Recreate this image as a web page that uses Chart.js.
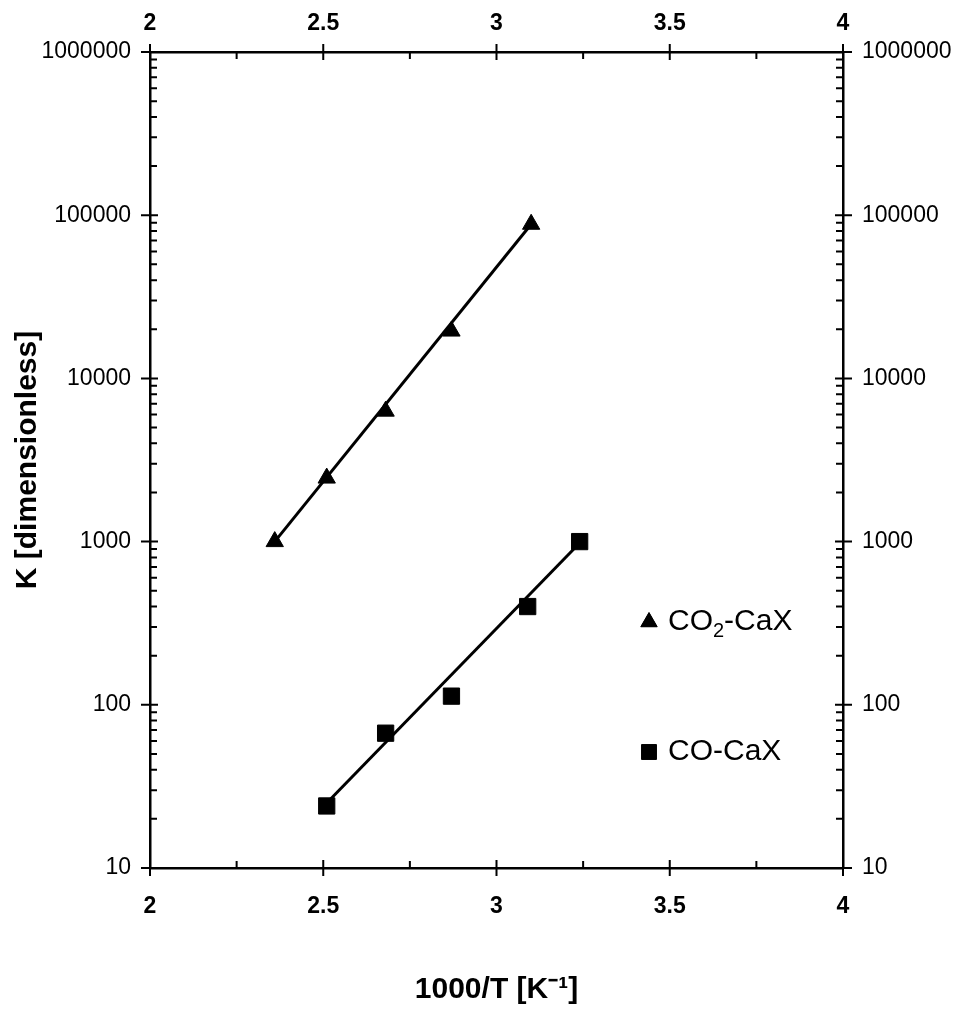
<!DOCTYPE html>
<html>
<head>
<meta charset="utf-8">
<script src="https://cdn.jsdelivr.net/npm/chart.js@4/dist/chart.umd.min.js"></script>
<style>
  html, body { margin: 0; padding: 0; background: #fff; }
  canvas { display: block; }
</style>
</head>
<body>
<canvas id="chart" width="959" height="1009"></canvas>
<script>
// data
const co2X = [2.36, 2.51, 2.68, 2.87, 3.10];
const co2K = [1000, 2450, 6300, 19500, 88000];
const coX = [2.51, 2.68, 2.87, 3.09, 3.24];
const coK = [24, 67, 113, 400, 1000];

// fitted lines (end points)
const co2FitX = [2.36, 3.10];
const co2FitK = [1000, 88000];
const coFitX = [2.51, 3.24];
const coFitK = [25, 980];

const xTicks = [2, 2.5, 3, 3.5, 4];
const xMinor = [2.25, 2.75, 3.25, 3.75];
const yTicks = [10, 100, 1000, 10000, 100000, 1000000];

const family = "'Liberation Sans', Arial, sans-serif";
const xLabelFont = { family: family, size: 23, weight: 'bold' };
const yLabelFont = { family: family, size: 23 };
const titleFont = { family: family, size: 30, weight: 'bold' };

const toPoints = (xs, ys) => xs.map((x, i) => ({ x: x, y: ys[i] }));

// tick marks that cross the frame, minor ticks pointing inside
const frameTicks = {
  id: 'frameTicks',
  afterDraw(chart) {
    const { ctx, chartArea: a, scales } = chart;
    ctx.save();
    ctx.strokeStyle = '#000';
    ctx.lineWidth = 2;
    ctx.beginPath();
    xTicks.forEach(v => {
      const px = scales.x.getPixelForValue(v);
      ctx.moveTo(px, a.bottom + 8); ctx.lineTo(px, a.bottom - 8);
      ctx.moveTo(px, a.top - 8); ctx.lineTo(px, a.top + 8);
    });
    xMinor.forEach(v => {
      const px = scales.x.getPixelForValue(v);
      ctx.moveTo(px, a.bottom); ctx.lineTo(px, a.bottom - 7);
      ctx.moveTo(px, a.top); ctx.lineTo(px, a.top + 7);
    });
    yTicks.forEach(v => {
      const py = scales.y.getPixelForValue(v);
      ctx.moveTo(a.left - 9, py); ctx.lineTo(a.left + 8, py);
      ctx.moveTo(a.right + 9, py); ctx.lineTo(a.right - 8, py);
      if (v < 1000000) {
        for (let m = 2; m < 10; m++) {
          const pm = scales.y.getPixelForValue(v * m);
          ctx.moveTo(a.left, pm); ctx.lineTo(a.left + 7, pm);
          ctx.moveTo(a.right, pm); ctx.lineTo(a.right - 7, pm);
        }
      }
    });
    ctx.stroke();
    ctx.restore();
  }
};

// legend inside the plot
const innerLegend = {
  id: 'innerLegend',
  afterDraw(chart) {
    const { ctx } = chart;
    const x0 = 649, tx = 668;
    const rows = [
      { y: 622, style: 'triangle', r: 9.5, parts: [['CO', 0], ['2', 1], ['-CaX', 0]] },
      { y: 752, style: 'rect', r: 10.5, parts: [['CO-CaX', 0]] }
    ];
    ctx.save();
    ctx.fillStyle = '#000';
    ctx.strokeStyle = '#000';
    ctx.lineWidth = 1;
    ctx.textBaseline = 'middle';
    rows.forEach(row => {
      Chart.helpers.drawPoint(ctx, { pointStyle: row.style, radius: row.r, borderWidth: 1 }, x0, row.y);
      ctx.fill();
      let x = tx;
      row.parts.forEach(([t, sub]) => {
        ctx.font = (sub ? '20px ' : '30px ') + family;
        ctx.fillText(t, x, row.y + (sub ? 9 : 0));
        x += ctx.measureText(t).width;
      });
    });
    ctx.restore();
  }
};

const frameGrid = { display: true, drawOnChartArea: false, drawTicks: false };
const frameBorder = { display: true, color: '#000', width: 2.5 };

new Chart(document.getElementById('chart'), {
  type: 'scatter',
  data: {
    datasets: [
      {
        label: 'CO2-CaX fit',
        data: toPoints(co2FitX, co2FitK),
        showLine: true,
        borderColor: '#000',
        borderWidth: 3,
        pointRadius: 0
      },
      {
        label: 'CO-CaX fit',
        data: toPoints(coFitX, coFitK),
        showLine: true,
        borderColor: '#000',
        borderWidth: 3,
        pointRadius: 0
      },
      {
        label: 'CO2-CaX',
        data: toPoints(co2X, co2K),
        pointStyle: 'triangle',
        pointRadius: 10,
        backgroundColor: '#000',
        borderColor: '#000',
        borderWidth: 1
      },
      {
        label: 'CO-CaX',
        data: toPoints(coX, coK),
        pointStyle: 'rect',
        pointRadius: 11.5,
        backgroundColor: '#000',
        borderColor: '#000',
        borderWidth: 1
      }
    ]
  },
  options: {
    responsive: false,
    animation: false,
    layout: { padding: 0 },
    plugins: {
      legend: { display: false },
      tooltip: { enabled: false }
    },
    scales: {
      x: {
        type: 'linear',
        position: 'bottom',
        min: 2,
        max: 4,
        afterBuildTicks: s => { s.ticks = xTicks.map(v => ({ value: v })); },
        afterFit: s => { s.height = 141; },
        grid: frameGrid,
        border: frameBorder,
        ticks: { color: '#000', font: xLabelFont, padding: 25, maxRotation: 0, callback: v => String(v) },
        title: { display: true, text: '1000/T [K⁻¹]', color: '#000', font: titleFont, padding: { top: 0, bottom: 1 } }
      },
      x2: {
        type: 'linear',
        position: 'top',
        min: 2,
        max: 4,
        afterBuildTicks: s => { s.ticks = xTicks.map(v => ({ value: v })); },
        afterFit: s => { s.height = 52; },
        grid: frameGrid,
        border: frameBorder,
        ticks: { color: '#000', font: xLabelFont, padding: 15, maxRotation: 0, callback: v => String(v) }
      },
      y: {
        type: 'logarithmic',
        position: 'left',
        min: 10,
        max: 1000000,
        afterBuildTicks: s => { s.ticks = yTicks.map(v => ({ value: v })); },
        afterFit: s => { s.width = 150; },
        grid: frameGrid,
        border: frameBorder,
        ticks: { color: '#000', font: yLabelFont, padding: 19, callback: v => String(v) },
        title: { display: true, text: 'K [dimensionless]', color: '#000', font: titleFont, padding: { top: 10, bottom: 0 } }
      },
      y2: {
        type: 'logarithmic',
        position: 'right',
        min: 10,
        max: 1000000,
        afterBuildTicks: s => { s.ticks = yTicks.map(v => ({ value: v })); },
        afterFit: s => { s.width = 116; },
        grid: frameGrid,
        border: frameBorder,
        ticks: { color: '#000', font: yLabelFont, padding: 19, callback: v => String(v) }
      }
    }
  },
  plugins: [frameTicks, innerLegend]
});
</script>
</body>
</html>
